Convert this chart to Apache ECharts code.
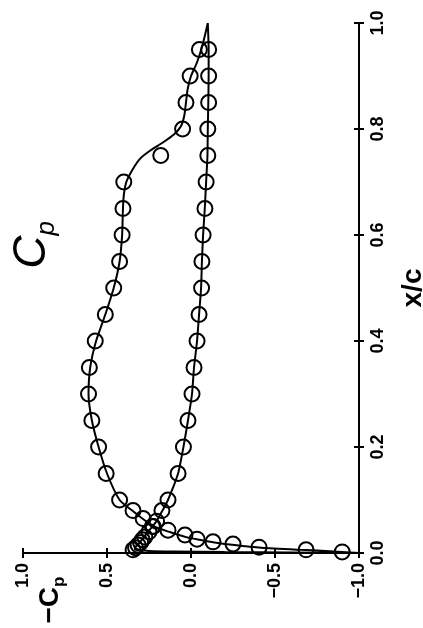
<!DOCTYPE html>
<html><head><meta charset="utf-8">
<script src="https://cdn.jsdelivr.net/npm/echarts@6/dist/echarts.min.js"></script>
<style>html,body{margin:0;padding:0;background:#fff}#c{width:423px;height:628px}</style>
</head><body><div id="c"></div>
<script>
// Tick values
const cpTicks = [-1.0, -0.5, 0.0, 0.5, 1.0];
const xcTicks = [0.0, 0.2, 0.4, 0.6, 0.8, 1.0];

// Measured points, upper surface (x/c, -Cp)
const upperXc = [0.95, 0.90, 0.85, 0.80, 0.75, 0.70, 0.65, 0.60, 0.55, 0.50, 0.45, 0.40, 0.35, 0.30, 0.25, 0.20, 0.15, 0.10, 0.08, 0.065, 0.05, 0.043, 0.034, 0.026, 0.021, 0.017, 0.011, 0.006, 0.002];
const upperCp = [-0.05, 0.005, 0.03, 0.05, 0.18, 0.40, 0.405, 0.41, 0.425, 0.46, 0.51, 0.57, 0.605, 0.61, 0.59, 0.55, 0.505, 0.425, 0.345, 0.285, 0.23, 0.137, 0.036, -0.036, -0.131, -0.25, -0.405, -0.685, -0.90];

// Measured points, lower surface (x/c, -Cp)
const lowerXc = [0.95, 0.90, 0.85, 0.80, 0.75, 0.70, 0.65, 0.60, 0.55, 0.50, 0.45, 0.40, 0.35, 0.30, 0.25, 0.20, 0.15, 0.10, 0.08, 0.06, 0.05, 0.04, 0.03, 0.025, 0.02, 0.015, 0.01, 0.006];
const lowerCp = [-0.105, -0.105, -0.105, -0.10, -0.10, -0.09, -0.083, -0.072, -0.065, -0.063, -0.048, -0.036, -0.018, -0.006, 0.018, 0.045, 0.077, 0.137, 0.173, 0.205, 0.225, 0.25, 0.275, 0.29, 0.30, 0.315, 0.33, 0.345];

// Computed distribution, traced around the surface from the trailing edge
const theoryXc = [1.0, 0.96, 0.925, 0.90, 0.875, 0.85, 0.825, 0.805, 0.79, 0.775, 0.76, 0.745, 0.725, 0.70, 0.675, 0.65, 0.60, 0.55, 0.50, 0.45, 0.40, 0.35, 0.30, 0.25, 0.20, 0.15, 0.10, 0.08, 0.065, 0.05, 0.04, 0.03, 0.025, 0.02, 0.015, 0.01, 0.006, 0.003, 0.0,
  0.001, 0.002, 0.003, 0.004, 0.006, 0.01, 0.015, 0.02, 0.03, 0.04, 0.05, 0.06, 0.08, 0.10, 0.15, 0.20, 0.25, 0.30, 0.35, 0.40, 0.45, 0.50, 0.55, 0.60, 0.65, 0.70, 0.75, 0.80, 0.85, 0.90, 0.95, 1.0];
const theoryCp = [-0.10, -0.07, -0.035, 0.0, 0.02, 0.03, 0.04, 0.06, 0.10, 0.165, 0.24, 0.30, 0.345, 0.385, 0.40, 0.405, 0.41, 0.425, 0.46, 0.51, 0.565, 0.60, 0.61, 0.59, 0.55, 0.50, 0.425, 0.35, 0.29, 0.22, 0.13, 0.03, -0.05, -0.14, -0.26, -0.42, -0.65, -0.85, -1.0,
  -0.6, -0.2, 0.1, 0.25, 0.33, 0.335, 0.32, 0.305, 0.28, 0.255, 0.23, 0.205, 0.17, 0.137, 0.077, 0.045, 0.018, -0.006, -0.018, -0.036, -0.048, -0.06, -0.065, -0.072, -0.082, -0.09, -0.098, -0.10, -0.103, -0.105, -0.105, -0.10];

const pair = (xs, cs) => xs.map((u, i) => [cs[i], u]);
const FONT = 'Liberation Sans';
const fmt = v => (v < 0 ? '\u2212' : '') + Math.abs(v).toFixed(1);

const chart = echarts.init(document.getElementById('c'), null, {renderer: 'canvas'});
const axisBase = {
  type: 'value', splitLine: {show: false},
  axisLine: {show: true, onZero: false, lineStyle: {color: '#000', width: 2}},
  axisTick: {show: true, inside: false, length: 5, lineStyle: {color: '#000', width: 2}}
};
const innerTick = {show: true, inside: true, length: 5, lineStyle: {color: '#000', width: 2}};
const labelStyle = {rotate: 90, margin: 10, fontSize: 18, fontWeight: 'bold', color: '#000', fontFamily: FONT, formatter: fmt};
const circleStyle = {color: 'rgba(0,0,0,0)', borderColor: '#000', borderWidth: 2, opacity: 1};
chart.setOption({
  backgroundColor: '#fff',
  animation: false,
  grid: {left: 23, right: 64, top: 23, bottom: 75, containLabel: false, outerBoundsMode: 'none'},
  xAxis: [
    Object.assign({}, axisBase, {
      min: cpTicks[0], max: cpTicks[cpTicks.length - 1], interval: 0.5, inverse: true, position: 'bottom',
      axisLabel: labelStyle
    }),
    Object.assign({}, axisBase, {
      min: cpTicks[0], max: cpTicks[cpTicks.length - 1], interval: 0.5, inverse: true, position: 'bottom',
      axisLine: {show: false, onZero: false}, axisTick: innerTick, axisLabel: {show: false}
    })
  ],
  yAxis: [
    Object.assign({}, axisBase, {
      min: xcTicks[0], max: xcTicks[xcTicks.length - 1], interval: 0.2, position: 'right',
      name: 'x/c', nameLocation: 'middle', nameGap: 40,
      nameTextStyle: {fontSize: 28, fontWeight: 'bold', color: '#000', fontFamily: FONT},
      axisLabel: labelStyle
    }),
    Object.assign({}, axisBase, {
      min: xcTicks[0], max: xcTicks[xcTicks.length - 1], interval: 0.2, position: 'right',
      axisLine: {show: false, onZero: false}, axisTick: innerTick, axisLabel: {show: false}
    })
  ],
  graphic: [
    {type: 'text', x: 32, y: 245, rotation: Math.PI / 2,
      style: {text: '{c|C}{s|p}', align: 'center', verticalAlign: 'middle', fill: '#000',
        rich: {c: {fontSize: 46, fontStyle: 'italic', fontFamily: FONT, lineHeight: 56},
               s: {fontSize: 26, fontStyle: 'italic', fontFamily: FONT, lineHeight: 26, verticalAlign: 'bottom'}}}},
    {type: 'text', x: 50, y: 600, rotation: Math.PI / 2,
      style: {text: '{c|\u2212C}{s|p}', align: 'center', verticalAlign: 'middle', fill: '#000',
        rich: {c: {fontSize: 28, fontWeight: 'bold', fontFamily: FONT, lineHeight: 36},
               s: {fontSize: 17, fontWeight: 'bold', fontFamily: FONT, lineHeight: 17, verticalAlign: 'bottom'}}}}
  ],
  series: [
    {type: 'line', data: pair(theoryXc, theoryCp), showSymbol: false, symbol: 'none', smooth: 0.2,
      lineStyle: {color: '#000', width: 2}, z: 2},
    {type: 'scatter', data: pair(upperXc, upperCp), symbol: 'circle', symbolSize: 15,
      itemStyle: circleStyle, z: 3},
    {type: 'scatter', data: pair(lowerXc, lowerCp), symbol: 'circle', symbolSize: 15,
      itemStyle: circleStyle, z: 3}
  ]
});
</script></body></html>
